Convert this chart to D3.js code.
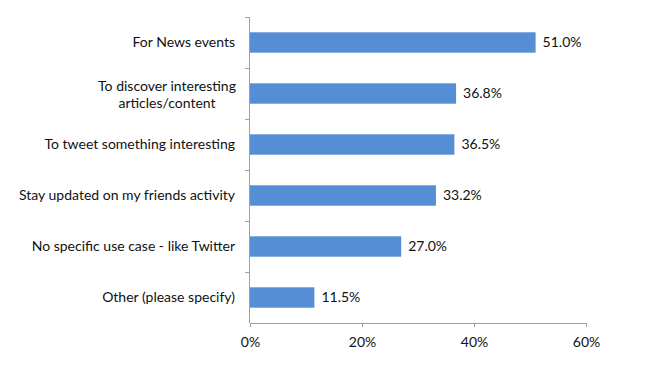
<!DOCTYPE html>
<html>
<head>
<meta charset="utf-8">
<script src="https://cdn.jsdelivr.net/npm/d3@7"></script>
<style>
  body { margin: 0; background: #fff; }
  text { font-family: Lato, "Open Sans", sans-serif; fill: #111; }
</style>
</head>
<body>
<div id="chart"></div>
<script>
const categories = [
    ["For News events"],
    ["To discover interesting", "articles/content"],
    ["To tweet something interesting"],
    ["Stay updated on my friends activity"],
    ["No specific use case - like Twitter"],
    ["Other (please specify)"]
];
const values = [51.0, 36.8, 36.5, 33.2, 27.0, 11.5];
const xTicks = [0, 20, 40, 60];

const WIDTH = 645;
const HEIGHT = 372;
const FONT_SIZE = 14;
const BAR_COLOR = "#558ed5";
const AXIS_COLOR = "#a0a0a0";

const svg = d3.select("#chart")
    .append("svg")
    .attr("width", WIDTH)
    .attr("height", HEIGHT);

const x = d3.scaleLinear().domain([0, 60]).range([250, 586]);
const y = d3.scaleBand()
    .domain(d3.range(categories.length))
    .range([17, 323])
    .paddingInner(0.6)
    .paddingOuter(0.3);

// bars
svg.selectAll("rect.bar")
    .data(values)
    .enter()
    .append("rect")
    .attr("class", "bar")
    .attr("x", x(0))
    .attr("y", (d, i) => y(i))
    .attr("width", d => x(d) - x(0))
    .attr("height", y.bandwidth())
    .attr("fill", BAR_COLOR);

// value labels
svg.selectAll("text.value")
    .data(values)
    .enter()
    .append("text")
    .attr("class", "value")
    .attr("x", d => x(d) + 7)
    .attr("y", (d, i) => y(i) + y.bandwidth() / 2)
    .attr("dy", "0.35em")
    .style("font-size", FONT_SIZE + "px")
    .text(d => d.toFixed(1) + "%");

// y axis line + ticks between bands
const step = y.step();
svg.append("line")
    .attr("x1", x(0) - 0.5).attr("x2", x(0) - 0.5)
    .attr("y1", 17).attr("y2", 323)
    .attr("stroke", AXIS_COLOR);
svg.selectAll("line.ytick")
    .data(d3.range(categories.length))
    .enter()
    .append("line")
    .attr("x1", x(0) - 5).attr("x2", x(0))
    .attr("y1", d => 17 + d * step + 0.5)
    .attr("y2", d => 17 + d * step + 0.5)
    .attr("stroke", AXIS_COLOR);

// category labels
const labels = svg.selectAll("text.cat")
    .data(categories)
    .enter()
    .append("text")
    .attr("class", "cat")
    .attr("y", (d, i) => y(i) + y.bandwidth() / 2)
    .style("font-size", FONT_SIZE + "px");

labels.each(function(lines) {
    const t = d3.select(this);
    if (lines.length === 1) {
        t.attr("x", 235).attr("text-anchor", "end").attr("dy", "0.35em").text(lines[0]);
    } else {
        // two lines centered on each other, block right aligned
        t.attr("text-anchor", "middle");
        lines.forEach((line, k) => {
            t.append("tspan")
                .attr("x", 167)
                .attr("dy", k === 0 ? "-0.2em" : "1.2em")
                .text(line);
        });
    }
});

// x axis
const xAxis = svg.append("g")
    .attr("transform", "translate(0,323)")
    .call(d3.axisBottom(x).tickValues(xTicks).tickSize(4).tickPadding(10).tickFormat(d => d + "%"));
xAxis.select(".domain").attr("stroke", AXIS_COLOR);
xAxis.selectAll(".tick line").attr("stroke", AXIS_COLOR);
xAxis.selectAll(".tick text")
    .style("font-family", "Lato, 'Open Sans', sans-serif")
    .style("font-size", FONT_SIZE + "px")
    .attr("fill", "#111");
</script>
</body>
</html>
